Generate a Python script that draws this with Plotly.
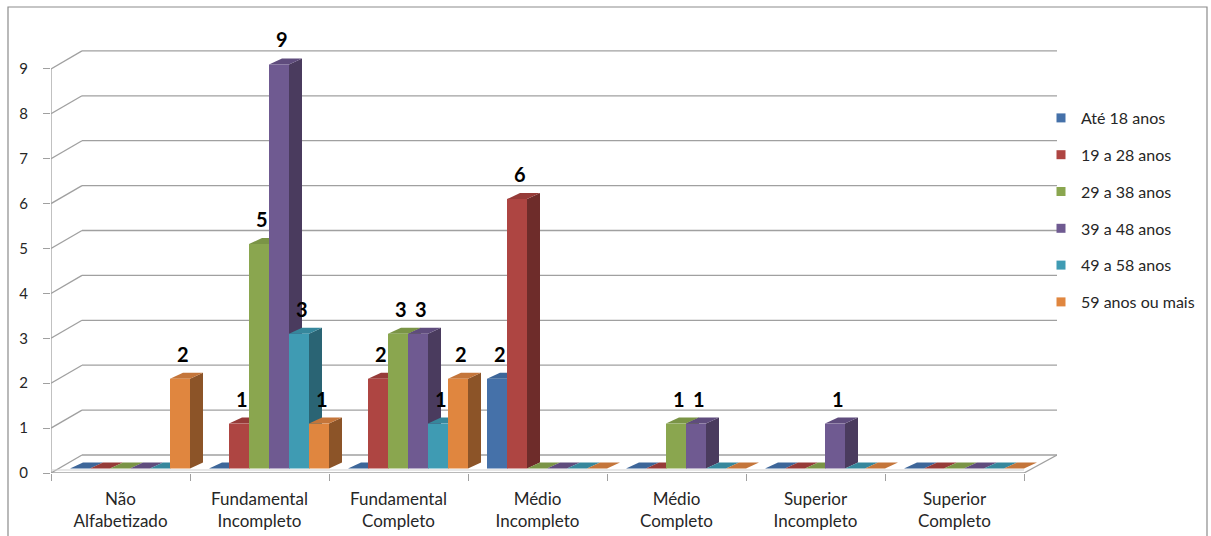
import plotly.graph_objects as go

# ---------------- data ----------------
categories = ["Não<br>Alfabetizado", "Fundamental<br>Incompleto", "Fundamental<br>Completo",
              "Médio<br>Incompleto", "Médio<br>Completo", "Superior<br>Incompleto", "Superior<br>Completo"]
series_names = ["Até 18 anos", "19 a 28 anos", "29 a 38 anos", "39 a 48 anos", "49 a 58 anos", "59 anos ou mais"]
ate_18 = [0, 0, 0, 2, 0, 0, 0]
de_19_28 = [0, 1, 2, 6, 0, 0, 0]
de_29_38 = [0, 5, 3, 0, 1, 0, 0]
de_39_48 = [0, 9, 3, 0, 1, 1, 0]
de_49_58 = [0, 3, 1, 0, 0, 0, 0]
mais_59 = [2, 1, 2, 0, 0, 0, 0]
series_values = [ate_18, de_19_28, de_29_38, de_39_48, de_49_58, mais_59]
y_ticks = [0, 1, 2, 3, 4, 5, 6, 7, 8, 9]

# ---------------- styling ----------------
front_colors = ["#4571A9", "#AE4542", "#8AA64F", "#6F5A91", "#3F9BB3", "#E0863F"]
side_colors = ["#2C4A70", "#6E2C2A", "#5A6D33", "#4A3B5E", "#2A6474", "#8C5428"]
top_colors = ["#3D6699", "#963B38", "#7A9446", "#5F4C7D", "#36879C", "#C4753A"]
FONT = "Lato"
TXT = "#262626"
GRID = "#A0A0A0"

W, H = 1211, 536
L_PX, R_PX = 51, 1057          # plot area horizontal extent (pixels)
T_PX, B_PX = 25, 473           # plot area vertical extent (pixels)
PXU_X = 139.0                  # pixels per category
PXU_Y = 44.9                   # pixels per value unit
XMAX = (R_PX - L_PX) / PXU_X
YMAX = (B_PX - T_PX) / PXU_Y
BAR_LIFT = 4.5 / PXU_Y         # bars stand slightly behind the front edge
DEPTH_X = 31 / PXU_X           # wall depth
DEPTH_Y = 18 / PXU_Y
BAR_DX = 13 / PXU_X            # bar depth
BAR_DY = 6 / PXU_Y
BAR_W = 20 / PXU_X
BAR_X0 = 19 / PXU_X
N_CAT = len(categories)


def px2paper_x(px):
    return (px - L_PX) / (R_PX - L_PX)


def px2paper_y(py):
    return (B_PX - py) / (B_PX - T_PX)


fig = go.Figure()
shapes = []

# walls: gridlines on side wall + back wall
for v in y_ticks:
    shapes.append(dict(type="line", xref="x", yref="y", x0=0, y0=v, x1=DEPTH_X, y1=v + DEPTH_Y,
                       line=dict(color=GRID, width=1.3), layer="below"))
    shapes.append(dict(type="line", xref="x", yref="y", x0=DEPTH_X, y0=v + DEPTH_Y, x1=XMAX, y1=v + DEPTH_Y,
                       line=dict(color=GRID, width=1.3), layer="below"))
# front vertical axis line
shapes.append(dict(type="line", xref="x", yref="y", x0=0, y0=0, x1=0, y1=max(y_ticks),
                   line=dict(color=GRID, width=1.3), layer="below"))
# floor front edge + right edge
shapes.append(dict(type="line", xref="x", yref="y", x0=0, y0=0, x1=N_CAT, y1=0,
                   line=dict(color=GRID, width=1.3), layer="below"))
shapes.append(dict(type="line", xref="x", yref="y", x0=0, y0=3 / PXU_Y, x1=N_CAT, y1=3 / PXU_Y,
                   line=dict(color="#D0D0D0", width=1), layer="below"))
shapes.append(dict(type="line", xref="x", yref="y", x0=N_CAT, y0=0, x1=XMAX, y1=DEPTH_Y,
                   line=dict(color=GRID, width=1.3), layer="below"))

# bars (front faces via traces), side + top faces via shapes derived from the data
for j, (name, vals) in enumerate(zip(series_names, series_values)):
    xs = [i + BAR_X0 + j * BAR_W + BAR_W / 2 for i in range(N_CAT)]
    fig.add_trace(go.Bar(x=xs, y=vals, width=BAR_W, yaxis="y2", name=name,
                         marker=dict(color=front_colors[j], line=dict(width=0)),
                         showlegend=False, hoverinfo="y+name"))
    for i, v in enumerate(vals):
        xl = i + BAR_X0 + j * BAR_W
        xr = xl + BAR_W
        if v > 0:
            shapes.append(dict(type="path", xref="x", yref="y2", layer="below",
                               path=f"M{xr},0 L{xr},{v} L{xr + BAR_DX},{v + BAR_DY} L{xr + BAR_DX},{BAR_DY} Z",
                               fillcolor=side_colors[j], line=dict(width=0)))
        shapes.append(dict(type="path", xref="x", yref="y2", layer="below",
                           path=f"M{xl},{v} L{xr},{v} L{xr + BAR_DX},{v + BAR_DY} L{xl + BAR_DX},{v + BAR_DY} Z",
                           fillcolor=top_colors[j], line=dict(width=0)))

# legend entries
for j, name in enumerate(series_names):
    fig.add_trace(go.Scatter(x=[None], y=[None], mode="markers", name=name, legendgroup=name,
                             marker=dict(symbol="square", size=9, color=front_colors[j])))

# data labels
annotations = []
for j, vals in enumerate(series_values):
    for i, v in enumerate(vals):
        if v > 0:
            xc = i + BAR_X0 + j * BAR_W + BAR_W / 2 + 3 / PXU_X
            annotations.append(dict(x=xc, y=v, xref="x", yref="y2", text=f"<b>{v}</b>",
                                    showarrow=False, yshift=25, yanchor="middle",
                                    font=dict(family=FONT, size=20, color="#000000")))

# outer chart border
shapes.append(dict(type="rect", xref="paper", yref="paper",
                   x0=px2paper_x(8), x1=px2paper_x(1207), y0=px2paper_y(560), y1=px2paper_y(7),
                   line=dict(color="#8C8C8C", width=1.2), fillcolor="rgba(0,0,0,0)", layer="below"))

fig.update_layout(
    width=W, height=H,
    margin=dict(l=L_PX, r=W - R_PX, t=T_PX, b=H - B_PX, autoexpand=False),
    paper_bgcolor="white", plot_bgcolor="white",
    barmode="overlay",
    showlegend=True,
    legend=dict(x=px2paper_x(1041), y=px2paper_y(101), xanchor="left", yanchor="top",
                font=dict(family=FONT, size=16, color=TXT), tracegroupgap=13,
                itemsizing="trace", bgcolor="rgba(0,0,0,0)"),
    xaxis=dict(range=[0, XMAX], showgrid=False, zeroline=False, showline=False,
               tickmode="array", tickvals=[i + 0.5 for i in range(N_CAT)], ticktext=categories,
               ticks="", ticklabelstandoff=14,
               tickfont=dict(family=FONT, size=17, color=TXT),
               minor=dict(tickmode="linear", tick0=0, dtick=1, ticks="outside", ticklen=7,
                          tickcolor=GRID, tickwidth=1.3, showgrid=False)),
    yaxis=dict(range=[0, YMAX], showgrid=False, zeroline=False, showline=False,
               tickmode="array", tickvals=y_ticks, ticks="outside", ticklen=7,
               tickcolor=GRID, tickwidth=1.3, ticklabelstandoff=12,
               tickfont=dict(family=FONT, size=15, color=TXT)),
    yaxis2=dict(range=[-BAR_LIFT, YMAX - BAR_LIFT], overlaying="y", visible=False),
    shapes=shapes,
    annotations=annotations,
)

fig.write_html("out.html")
